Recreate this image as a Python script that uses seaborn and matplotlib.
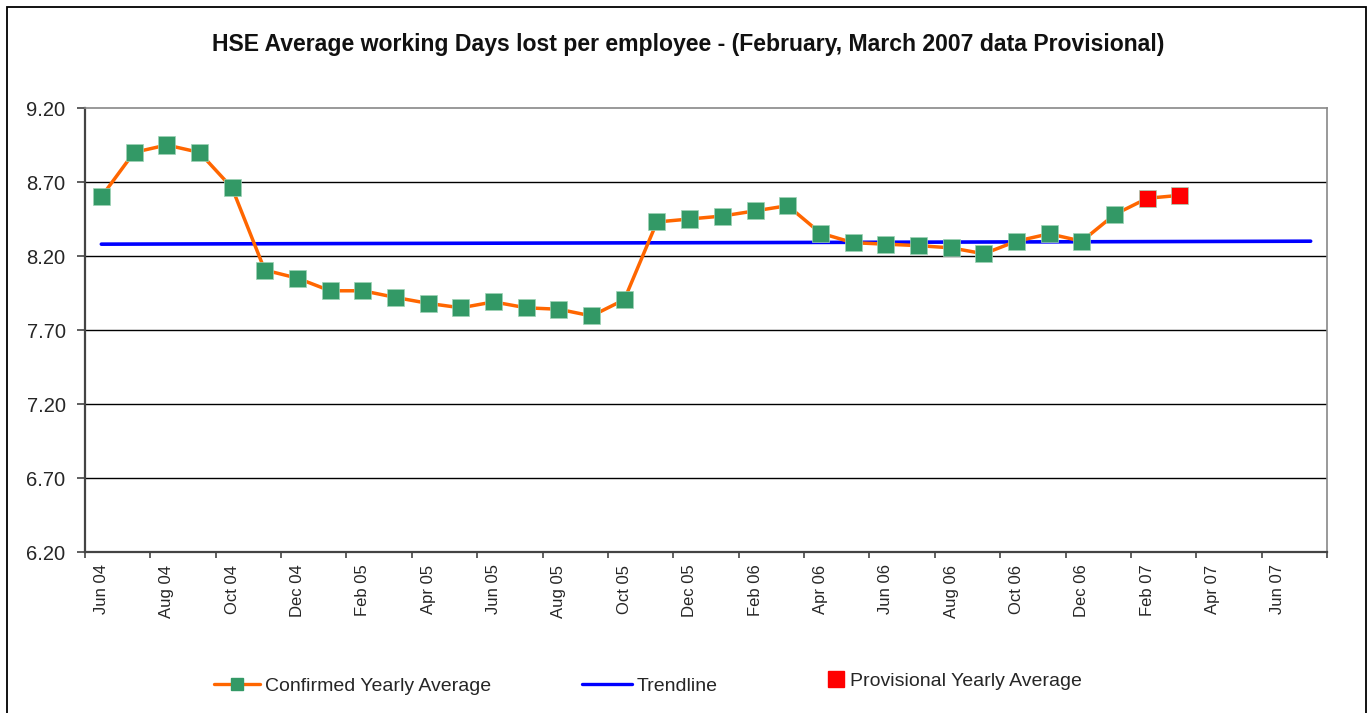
import pandas as pd
import matplotlib
matplotlib.use("Agg")
import matplotlib.pyplot as plt
from matplotlib.lines import Line2D
from matplotlib.patches import Rectangle
from matplotlib.ticker import FixedLocator, NullFormatter
import seaborn as sns

# month categories on the x axis (Jun 04 .. Jul 07)
months = ["Jun 04", "Jul 04", "Aug 04", "Sep 04", "Oct 04", "Nov 04", "Dec 04",
          "Jan 05", "Feb 05", "Mar 05", "Apr 05", "May 05", "Jun 05", "Jul 05",
          "Aug 05", "Sep 05", "Oct 05", "Nov 05", "Dec 05", "Jan 06", "Feb 06",
          "Mar 06", "Apr 06", "May 06", "Jun 06", "Jul 06", "Aug 06", "Sep 06",
          "Oct 06", "Nov 06", "Dec 06", "Jan 07", "Feb 07", "Mar 07", "Apr 07",
          "May 07", "Jun 07", "Jul 07"]

# confirmed yearly average, Jun 04 .. Jan 07
confirmed = [8.60, 8.90, 8.95, 8.90, 8.66, 8.105, 8.05, 7.965, 7.965, 7.92,
             7.88, 7.85, 7.89, 7.85, 7.84, 7.795, 7.905, 8.43, 8.45, 8.47,
             8.505, 8.54, 8.355, 8.29, 8.28, 8.27, 8.255, 8.215, 8.30, 8.35,
             8.30, 8.48]
# provisional yearly average, Feb 07 and Mar 07
provisional = [8.59, 8.61]

# trendline end values (Jun 04 and Jul 07)
trend_months = ["Jun 04", "Jul 07"]
trend_values = [8.28, 8.30]

y_ticks = [6.20, 6.70, 7.20, 7.70, 8.20, 8.70, 9.20]

ORANGE = "#FF6600"
GREEN = "#339966"
BLUE = "#0000FF"
RED = "#FF0000"

sns.set_theme(style="white")
plt.rcParams["font.family"] = ["Liberation Sans", "DejaVu Sans"]

pos = {m: i for i, m in enumerate(months)}
values = confirmed + provisional
df = pd.DataFrame({
    "month": months[:len(values)],
    "value": values,
    "status": ["Confirmed"] * len(confirmed) + ["Provisional"] * len(provisional),
})
df["pos"] = df["month"].map(pos)
trend = pd.DataFrame({"pos": [pos[m] for m in trend_months], "value": trend_values})

fig = plt.figure(figsize=(13.69, 7.13), dpi=100)
ax = fig.add_axes([85 / 1369, 1 - 552 / 713, (1327 - 85) / 1369, (552 - 108) / 713])

sns.lineplot(data=trend, x="pos", y="value", color=BLUE, linewidth=2.6, ax=ax, zorder=3)
sns.lineplot(data=df, x="pos", y="value", color=ORANGE, linewidth=2.5, ax=ax, zorder=4)
sns.scatterplot(data=df, x="pos", y="value", hue="status", marker="s", s=150,
                palette={"Confirmed": GREEN, "Provisional": RED},
                edgecolor="#9fd3b6", linewidth=0.5, ax=ax, zorder=5, legend=False)

ax.set_xlim(-0.5, len(months) - 0.5)
ax.set_ylim(6.20, 9.20)
ax.set_yticks(y_ticks)
ax.set_yticklabels([f"{v:.2f}" for v in y_ticks], fontsize=14.5)
ax.set_xticks(range(0, len(months), 2))
ax.set_xticklabels(months[::2], rotation=90, fontsize=12)
ax.xaxis.set_minor_locator(FixedLocator([i - 0.5 for i in range(0, len(months) + 1, 2)]))
ax.xaxis.set_minor_formatter(NullFormatter())
ax.tick_params(axis="x", which="major", length=0, pad=9)
ax.tick_params(axis="x", which="minor", length=4, width=1.2, color="#444444", bottom=True)
ax.tick_params(axis="y", length=6, width=1.2, color="#444444", pad=8, left=True)
ax.set_xlabel("")
ax.set_ylabel("")

for v in y_ticks[1:-1]:
    ax.axhline(v, color="black", linewidth=1.0, zorder=1)

ax.spines["left"].set_color("#444444")
ax.spines["bottom"].set_color("#444444")
ax.spines["left"].set_linewidth(1.6)
ax.spines["bottom"].set_linewidth(1.6)
ax.spines["top"].set_color("#888888")
ax.spines["right"].set_color("#888888")
ax.spines["top"].set_linewidth(1.2)
ax.spines["right"].set_linewidth(1.2)

fig.text(688 / 1369, 1 - 44 / 713,
         "HSE Average working Days lost per employee - (February, March 2007 data Provisional)",
         ha="center", va="center", fontsize=16.6, fontweight="bold", color="#111111")

# legend entries, placed one by one like the original
legend_entries = [
    (Line2D([], [], color=ORANGE, linewidth=2.4, marker="s", markersize=8,
            markerfacecolor=GREEN, markeredgecolor=GREEN),
     "Confirmed Yearly Average", 214, 686, 2.35),
    (Line2D([], [], color=BLUE, linewidth=2.4), "Trendline", 582, 686, 2.55),
    (Line2D([], [], linestyle="none", marker="s", markersize=11,
            markerfacecolor=RED, markeredgecolor=RED),
     "Provisional Yearly Average", 826, 681, 1.0),
]
for handle, label, lx, ly, hl in legend_entries:
    fig.legend([handle], [label], loc="center left", bbox_to_anchor=(lx / 1369, 1 - ly / 713),
               frameon=False, fontsize=14, handlelength=hl, handletextpad=0.25,
               borderpad=0, borderaxespad=0)

# outer chart frame
fig.patches.append(Rectangle((7 / 1369, -0.02), (1366 - 7) / 1369, 1 - 7 / 713 + 0.02,
                             transform=fig.transFigure, fill=False,
                             edgecolor="black", linewidth=1.3))

fig.savefig("out.png", dpi=100, facecolor="white")
